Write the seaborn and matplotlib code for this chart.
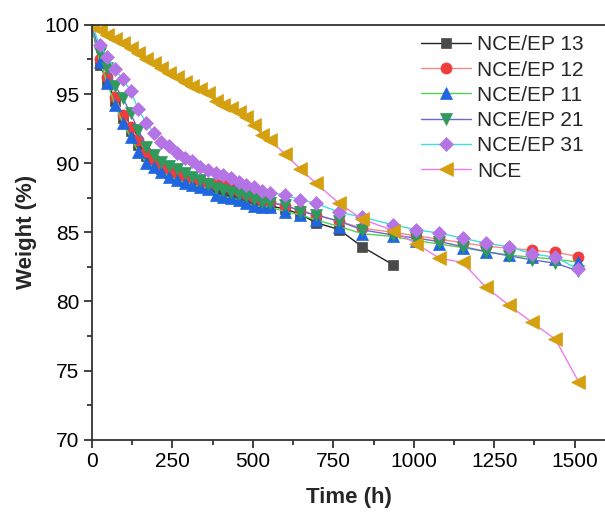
import matplotlib
matplotlib.use("Agg")
import matplotlib.pyplot as plt
from matplotlib.ticker import MultipleLocator
import seaborn as sns
import pandas as pd

sns.set_theme(style="ticks")
plt.rcParams['font.family'] = ['Liberation Sans', 'DejaVu Sans']

t_full = [0, 24, 48, 72, 96, 120, 144, 168, 192, 216, 240, 264, 288, 312, 336, 360,
          384, 408, 432, 456, 480, 504, 528, 552, 600, 648, 696, 768, 840, 936, 1008,
          1080, 1152, 1224, 1296, 1368, 1440, 1512]
t_ep13 = t_full[:30]

w_ep13 = [100, 97.1, 95.9, 94.5, 93.3, 92.3, 91.3, 90.5, 90.0, 89.6, 89.3, 89.0, 88.8,
          88.6, 88.45, 88.3, 88.1, 87.9, 87.75, 87.6, 87.4, 87.2, 87.0, 86.9, 86.7, 86.3,
          85.7, 85.2, 83.95, 82.65]
w_ep12 = [100, 97.5, 96.2, 94.8, 93.5, 92.6, 91.7, 90.8, 90.3, 89.9, 89.6, 89.3, 89.1,
          88.9, 88.75, 88.6, 88.5, 88.4, 88.2, 88.0, 87.8, 87.55, 87.35, 87.2, 86.9, 86.6,
          86.25, 85.8, 85.3, 85.0, 84.75, 84.5, 84.25, 84.0, 83.85, 83.7, 83.55, 83.25]
w_ep11 = [100, 97.35, 95.78, 94.2, 92.89, 91.88, 90.84, 90.04, 89.71, 89.35, 89.03, 88.79,
          88.6, 88.43, 88.31, 88.14, 87.71, 87.59, 87.47, 87.35, 87.1, 86.91, 86.86, 86.82,
          86.5, 86.26, 85.9, 85.42, 84.9, 84.7, 84.4, 84.15, 83.9, 83.6, 83.35, 83.2, 83.05,
          82.85]
w_ep21 = [100, 97.95, 96.9, 95.6, 94.7, 93.6, 92.4, 91.2, 90.6, 90.1, 89.8, 89.6, 89.3,
          89.0, 88.8, 88.5, 88.2, 88.05, 87.95, 87.8, 87.6, 87.4, 87.2, 87.1, 87.0, 86.5,
          86.26, 85.8, 85.18, 84.8, 84.58, 84.33, 83.97, 83.61, 83.3, 83.01, 82.77, 82.2]
w_ep31 = [100, 98.55, 97.66, 96.79, 96.07, 95.25, 93.9, 92.94, 92.21, 91.56, 91.25, 90.72,
          90.36, 90.19, 89.71, 89.52, 89.32, 89.15, 88.91, 88.67, 88.43, 88.26, 88.02, 87.87,
          87.71, 87.35, 87.1, 86.45, 86.1, 85.54, 85.18, 84.94, 84.58, 84.21, 83.97, 83.44,
          83.2, 82.33]
w_nce = [100, 99.64, 99.28, 98.96, 98.67, 98.31, 97.95, 97.52, 97.23, 96.87, 96.55, 96.22,
         95.9, 95.59, 95.35, 95.06, 94.46, 94.22, 93.98, 93.73, 93.37, 92.77, 92.05, 91.68,
         90.67, 89.57, 88.55, 87.1, 85.95, 85.13, 84.16, 83.13, 82.82, 81.03, 79.73, 78.48,
         77.27, 74.21]

labels = ["NCE/EP 13", "NCE/EP 12", "NCE/EP 11", "NCE/EP 21", "NCE/EP 31", "NCE"]

series = [
    (labels[0], t_ep13, w_ep13, "s", "#4a4a4a", "#222222"),
    (labels[1], t_full, w_ep12, "o", "#f03c3c", "#f58a8a"),
    (labels[2], t_full, w_ep11, "^", "#1f66e0", "#55d055"),
    (labels[3], t_full, w_ep21, "v", "#2e9a5c", "#6a6ad0"),
    (labels[4], t_full, w_ep31, "D", "#b574e6", "#40dede"),
    (labels[5], t_full, w_nce, "<", "#d4a010", "#ee7aee"),
]

fig = plt.figure(figsize=(6.05, 5.18), dpi=100)
ax = fig.add_axes([0.152, 0.151, 0.851, 0.801])

sizes = {"s": 7, "o": 8, "^": 8.5, "v": 8.5, "D": 7.5, "<": 9.5}
for name, t, w, m, mc, lc in series:
    df = pd.DataFrame({"Time": t, "Weight": w})
    sns.lineplot(data=df, x="Time", y="Weight", ax=ax, color=lc, linewidth=1.0,
                 marker=m, markersize=sizes[m], markerfacecolor=mc, markeredgecolor=mc,
                 markeredgewidth=0.5, label=name)

ax.set_xlim(0, 1600)
ax.set_ylim(70, 100)
ax.xaxis.set_major_locator(MultipleLocator(250))
ax.xaxis.set_minor_locator(MultipleLocator(125))
ax.yaxis.set_major_locator(MultipleLocator(5))
ax.yaxis.set_minor_locator(MultipleLocator(2.5))
ax.tick_params(which="major", direction="out", length=6, width=1.3, labelsize=15,
               colors="#333333", labelcolor="black", pad=3)
ax.tick_params(which="minor", direction="out", length=3.5, width=1.3, colors="#333333")
for s in ["left", "bottom", "top", "right"]:
    ax.spines[s].set_linewidth(1.3)
    ax.spines[s].set_color("#333333")

ax.set_xlabel("Time (h)", fontsize=16, fontweight="bold", labelpad=11)
ax.set_ylabel("Weight (%)", fontsize=16, fontweight="bold", labelpad=5)

leg = ax.legend(loc="upper right", frameon=False, fontsize=15, handlelength=2.4,
                handletextpad=0.3, labelspacing=0.3, borderaxespad=0.1,
                bbox_to_anchor=(0.975, 1.0))

fig.savefig("out.png", dpi=100)
